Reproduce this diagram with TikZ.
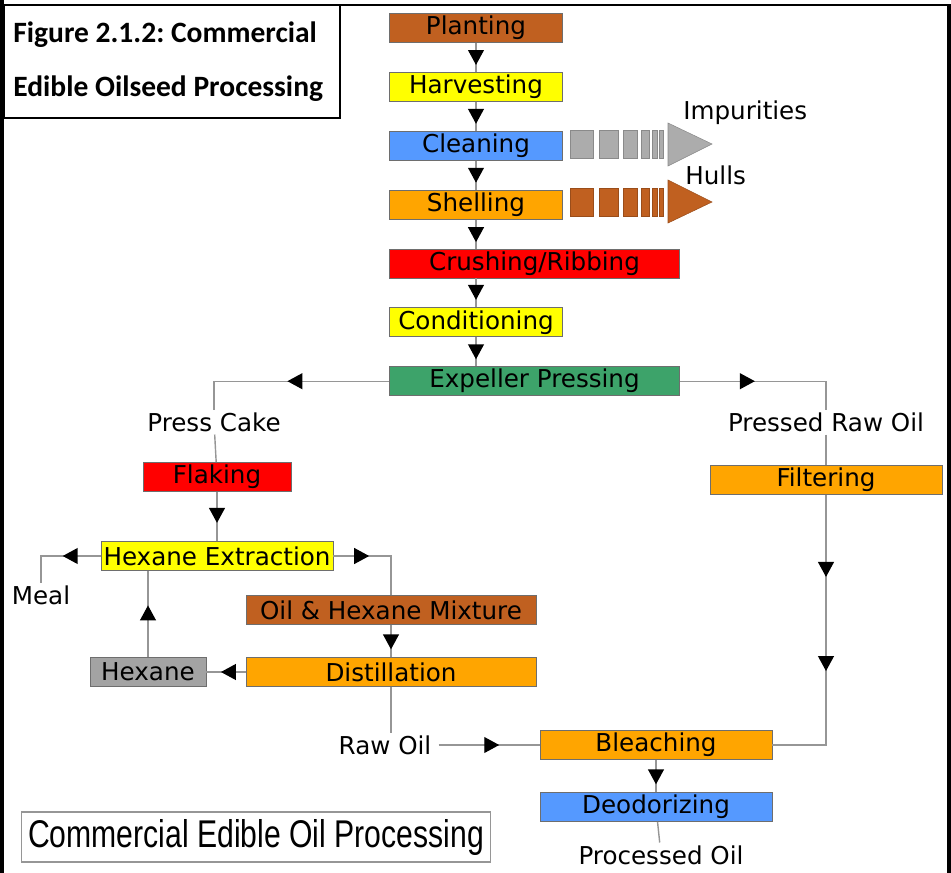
\documentclass[tikz,border=0pt]{standalone}
\usepackage{fontspec}
\setmainfont{DejaVu Sans}
\newfontfamily\headfont{Carlito}
\newfontfamily\capfont{Liberation Sans}
\usetikzlibrary{positioning,arrows.meta,decorations.markings}

\definecolor{sienna}{RGB}{192,96,32}
\definecolor{lemon}{RGB}{255,255,0}
\definecolor{sky}{RGB}{85,153,255}
\definecolor{amber}{RGB}{255,165,0}
\definecolor{scarlet}{RGB}{255,0,0}
\definecolor{pressgreen}{RGB}{61,163,106}
\definecolor{stone}{RGB}{163,163,163}
\definecolor{waste}{RGB}{172,172,172}
\definecolor{boxline}{RGB}{110,110,110}
\definecolor{flowgray}{RGB}{150,150,150}

\tikzset{
  stage/.style={draw=boxline, line width=0.5pt, minimum width=3.46cm,
                minimum height=0.58cm, inner sep=0pt,
                font=\fontsize{14pt}{16pt}\selectfont},
  wide/.style={stage, minimum width=5.8cm},
  mid/.style={stage, minimum width=4.64cm},
  lbl/.style={inner xsep=4pt, inner ysep=1.5pt,
              font=\fontsize{14pt}{16pt}\selectfont},
  flow/.style={draw=flowgray, line width=0.8pt},
  tip at/.style={postaction={decorate}, decoration={markings,
      mark=at position #1 with {\arrow[black]{Triangle[width=9pt,length=8.5pt]}}}},
  tips at/.style 2 args={postaction={decorate}, decoration={markings,
      mark=at position #1 with {\arrow[black]{Triangle[width=9pt,length=8.5pt]}},
      mark=at position #2 with {\arrow[black]{Triangle[width=9pt,length=8.5pt]}}}}
}

\begin{document}
\begin{tikzpicture}[x=0.02cm,y=-0.02cm,node distance=0.58cm]
  \useasboundingbox (0,0) rectangle (951,873);

  % frame and heading
  \fill (0,0) rectangle (4,873);
  \fill (947,4) rectangle (951,873);
  \draw[line width=1.2pt] (0,5) -- (951,5);
  \draw[line width=0.9pt] (4,5) rectangle (340,118);
  \node[anchor=west, align=left, inner sep=0pt,
        font=\headfont\bfseries\fontsize{16.8pt}{30.6pt}\selectfont\frenchspacing]
        (heading) at (13,62) {Figure 2.1.2: Commercial\\Edible Oilseed Processing};

  % seed line
  \node[stage, fill=sienna]                 (plant) at (476,28) {Planting};
  \node[stage, fill=lemon, below=of plant]  (harv)  {Harvesting};
  \node[stage, fill=sky, below=of harv]     (clean) {Cleaning};
  \node[stage, fill=amber, below=of clean]  (shell) {Shelling};
  \node[wide, fill=scarlet, below=of shell.south west, anchor=north west] (crush) {Crushing/Ribbing};
  \node[stage, fill=lemon, below=of crush.south west, anchor=north west]  (cond)  {Conditioning};
  \node[wide, fill=pressgreen, below=of cond.south west, anchor=north west] (expel) {Expeller Pressing};

  % solvent side
  \node[lbl]                       (cake)   at (214,422) {Press Cake};
  \node[stage, fill=scarlet, minimum width=2.96cm] (flake)  at (217,477) {Flaking};
  \node[mid, fill=lemon]           (hexext) at (217,556) {Hexane Extraction};
  \node[lbl]                       (meal)   at (41,595)  {Meal};
  \node[wide, fill=sienna]         (mix)    at (391,610) {Oil \& Hexane Mixture};
  \node[wide, fill=amber]          (distil) at (391,672) {Distillation};
  \node[stage, fill=stone, minimum width=2.32cm] (hexane) at (148,672) {Hexane};
  \node[lbl]                       (rawoil) at (385,745) {Raw Oil};

  % oil side
  \node[lbl]                       (praw)   at (826,422) {Pressed Raw Oil};
  \node[mid, fill=amber]           (filter) at (826,480) {Filtering};
  \node[mid, fill=amber]           (bleach) at (656,745) {Bleaching};
  \node[mid, fill=sky]             (deodor) at (656,807) {Deodorizing};
  \node[lbl]                       (procoil) at (661,855) {Processed Oil};

  % by-products
  \foreach \a/\b in {570/593,599/618,623/637,641/649,652/657,659/663}{
    \filldraw[fill=waste, draw=waste!80!black, line width=0.3pt] (\a,130) rectangle (\b,158);
    \filldraw[fill=sienna, draw=sienna!80!black, line width=0.3pt] (\a,188) rectangle (\b,216);
  }
  \filldraw[fill=waste, draw=waste!80!black, line width=0.3pt] (668,123) -- (712,144) -- (668,166) -- cycle;
  \filldraw[fill=sienna, draw=sienna!80!black, line width=0.3pt] (668,180) -- (712,202) -- (668,223) -- cycle;
  \node[lbl, anchor=west] (impur) at (676,113) {Impurities};
  \node[lbl, anchor=west] (hulls) at (678,175) {Hulls};

  % connectors
  \draw[flow, tip at=0.76] (plant) -- (harv);
  \draw[flow, tip at=0.76] (harv) -- (clean);
  \draw[flow, tip at=0.76] (clean) -- (shell);
  \draw[flow, tip at=0.78] (shell.south) -- (shell.south |- crush.north);
  \draw[flow, tip at=0.74] (cond.north |- crush.south) -- (cond.north);
  \draw[flow, tip at=0.76] (cond) -- (cond.south |- expel.north);

  \draw[flow, tip at=0.5]  (expel.west) -| (cake);
  \draw[flow] (cake) -- (flake);
  \draw[flow, tip at=0.63] (flake) -- (hexext);
  \draw[flow, tip at=0.44] (hexext.west) -| (meal);
  \draw[flow, tip at=0.37] (hexext.east) -| (mix.north);
  \draw[flow, tip at=0.76] (mix) -- (distil);
  \draw[flow, tip at=0.63] (distil.west) -- (hexane.east);
  \draw[flow, tip at=0.6]  (hexane.north) -- (hexane.north |- hexext.south);
  \draw[flow] (distil.south) -- (distil.south |- rawoil.north);
  \draw[flow, tip at=0.6]  (rawoil.east) -- (bleach.west);

  \draw[flow, tip at=0.43] (expel.east) -| (praw);
  \draw[flow] (praw) -- (filter);
  \draw[flow, tips at={0.27}{0.58}] (filter.south) |- (bleach.east);
  \draw[flow, tip at=0.76] (bleach) -- (deodor);
  \draw[flow] (deodor) -- (procoil);

  % caption
  \node[draw=flowgray, line width=0.6pt, minimum width=9.4cm, minimum height=1.0cm,
        inner sep=0pt] (caption) at (256,837)
        {\capfont\fontsize{22pt}{24pt}\selectfont\scalebox{0.78}[1]{Commercial Edible Oil Processing}};
\end{tikzpicture}
\end{document}
